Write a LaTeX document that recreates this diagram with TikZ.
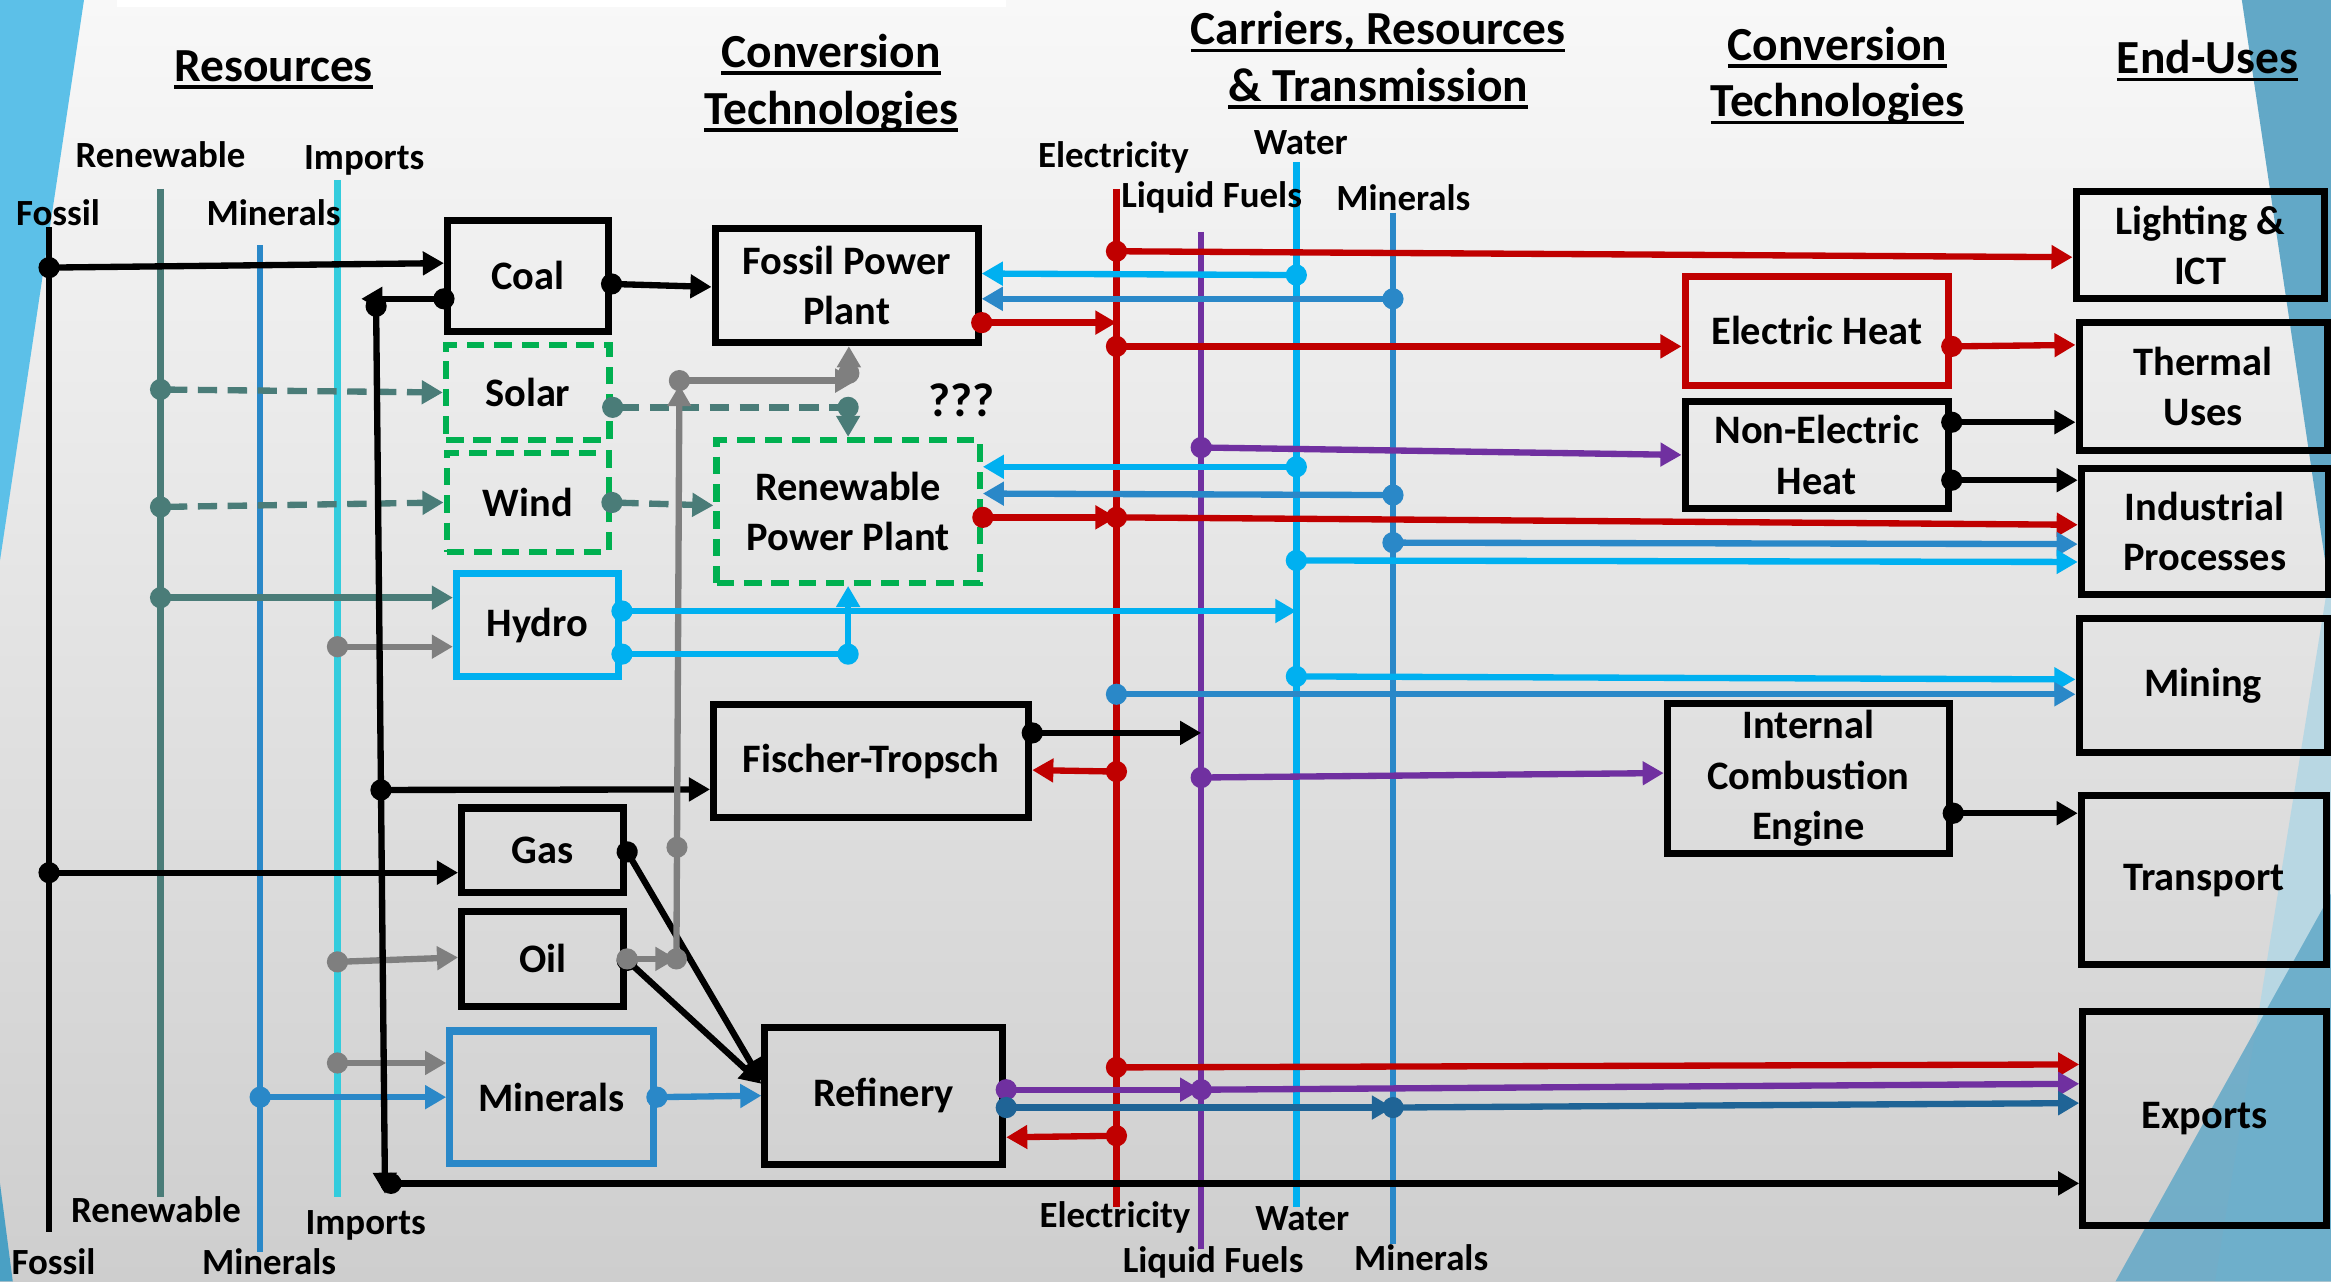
\documentclass[tikz,border=0pt]{standalone}
\usepackage{fontspec}
\setmainfont{Carlito}
\usetikzlibrary{arrows.meta,calc}

\definecolor{redc}{HTML}{C00000}
\definecolor{purc}{HTML}{7030A0}
\definecolor{watc}{HTML}{00B0F0}
\definecolor{minc}{HTML}{2A88C8}
\definecolor{expc}{HTML}{1F6496}
\definecolor{renc}{HTML}{4A7C78}
\definecolor{impc}{HTML}{33CCDD}
\definecolor{grayc}{HTML}{7F7F7F}
\definecolor{greenc}{HTML}{00B050}
\definecolor{skyc}{HTML}{5CC0E8}
\definecolor{skyd}{HTML}{4AA0C4}
\definecolor{sidec}{HTML}{62A8C7}
\definecolor{palec}{HTML}{B8D7E3}
\definecolor{bgtop}{HTML}{F8F8F8}
\definecolor{bgbot}{HTML}{CECECE}

% underlined heading text
\newsavebox{\hdbox}
\newcommand{\hul}[1]{\sbox{\hdbox}{#1}\rlap{\rule[-2.2pt]{\wd\hdbox}{1.1pt}}\usebox{\hdbox}}

\def\U{0.014866cm}
\newcommand{\hdfont}{\bfseries\fontsize{13.5}{16.1}\selectfont}
\newcommand{\bxfont}{\bfseries\fontsize{11.5}{14.4}\selectfont}
\newcommand{\lbfont}{\bfseries\fontsize{10.5}{12.5}\selectfont}

\begin{document}
\begin{tikzpicture}[x=\U, y=-\U,
  box/.style 2 args={draw, line width=2pt, minimum width=#1*\U, minimum height=#2*\U,
    inner sep=0pt, align=center, font=\bxfont},
  gbox/.style 2 args={box={#1}{#2}, draw=greenc, line width=1.8pt, dash pattern=on 5pt off 2.8pt},
  lbl/.style={font=\lbfont, inner sep=0pt},
  hd/.style={font=\hdfont, align=center, inner sep=0pt},
  rail/.style={draw=#1, line width=1.8pt},
  flow/.style={draw=#1, line width=1.8pt, shorten <=-3pt,
    {Circle[length=6pt]}-{Triangle[length=6pt,width=6.5pt]}},
  flow/.default=black,
  link/.style={draw=#1, line width=1.8pt, shorten <=-3pt, {Circle[length=6pt]}-},
  link/.default=black,
  dsh/.style={dash pattern=on 5.5pt off 3pt}]

  \useasboundingbox (0,0) rectangle (1568,862);

  % slide background
  \shade[top color=bgtop, bottom color=bgbot] (0,0) rectangle (1568,862);
  \fill[white] (79,0) rectangle (677,5);
  \fill[skyc] (0,0) -- (56.5,0) -- (0,377) -- cycle;
  \fill[skyd] (0,796) -- (8.6,862) -- (0,862) -- cycle;
  \fill[sidec] (1508,0) -- (1568,0) -- (1568,404) -- cycle;
  \fill[palec] (1568,380) -- (1568,862) -- (1490,862) -- cycle;
  \fill[sidec, opacity=.85] (1568,601) -- (1568,862) -- (1423,862) -- cycle;

  % resource lines
  \coordinate (rFosT) at (33,153);  \coordinate (rFosB) at (33,829);
  \coordinate (rRenT) at (108,127); \coordinate (rRenB) at (108,805);
  \coordinate (rMinT) at (175,165); \coordinate (rMinB) at (175,842);
  \coordinate (rImpT) at (227,121); \coordinate (rImpB) at (227,805);
  \draw[rail=black] (rFosT) -- (rFosB);
  \draw[rail=renc] (rRenT) -- (rRenB);
  \draw[rail=minc] (rMinT) -- (rMinB);
  \draw[rail=impc] (rImpT) -- (rImpB);

  % carrier lines
  \coordinate (cElT) at (751,127); \coordinate (cElB) at (751,812);
  \coordinate (cLfT) at (808,156); \coordinate (cLfB) at (808,840);
  \coordinate (cWaT) at (872,109); \coordinate (cWaB) at (872,812);
  \coordinate (cMiT) at (937,143); \coordinate (cMiB) at (937,837);
  \draw[rail=redc] (cElT) -- (cElB);
  \draw[rail=purc] (cLfT) -- (cLfB);
  \draw[rail=watc] (cWaT) -- (cWaB);
  \draw[rail=minc] (cMiT) -- (cMiB);

  % headings
  \node[hd] (hRes) at (184,47) {\hul{Resources}};
  \node[hd] (hConvA) at (559,56) {\hul{Conversion}\\\hul{Technologies}};
  \node[hd] (hCarr) at (927,40.5) {\hul{Carriers, Resources}\\\hul{\& Transmission}};
  \node[hd] (hConvB) at (1236,51) {\hul{Conversion}\\\hul{Technologies}};
  \node[hd] (hEnd) at (1485,41) {\hul{End-Uses}};

  % line labels
  \node[lbl] (tFos) at (39,143) {Fossil};
  \node[lbl] (tRen) at (108,104) {Renewable};
  \node[lbl] (tMin) at (184,143) {Minerals};
  \node[lbl] (tImp) at (245,108) {Imports};
  \node[lbl] (bFos) at (36,849) {Fossil};
  \node[lbl] (bRen) at (105,814) {Renewable};
  \node[lbl] (bMin) at (181,849) {Minerals};
  \node[lbl] (bImp) at (246,824) {Imports};
  \node[lbl] (tEl) at (749,106) {Electricity};
  \node[lbl] (tLf) at (815,133) {Liquid Fuels};
  \node[lbl] (tWa) at (875,96) {Water};
  \node[lbl] (tMi) at (944,133) {Minerals};
  \node[lbl] (bEl) at (750,819) {Electricity};
  \node[lbl] (bLf) at (816,849) {Liquid Fuels};
  \node[lbl] (bWa) at (876,820) {Water};
  \node[lbl] (bMi) at (956,846) {Minerals};

  % resource boxes
  \node[box={108}{75}] (coal) at (355,185.5) {Coal};
  \node[gbox={110}{64}] (solar) at (355,264) {Solar};
  \node[gbox={109}{67}] (wind) at (355,338) {Wind};
  \node[box={109}{69}, draw=watc] (hydro) at (361.5,420.5) {Hydro};
  \node[box={109}{57}] (gas) at (365,572) {Gas};
  \node[box={109}{64}] (oil) at (365,645) {Oil};
  \node[box={137}{89}, draw=minc] (minbox) at (371,738) {Minerals};

  % conversion boxes
  \node[box={177}{77}] (fpp) at (569.5,192) {Fossil Power\\Plant};
  \node[gbox={177}{96}] (rpp) at (570.5,344) {Renewable\\Power Plant};
  \node[box={212}{76}] (ft) at (586,512) {Fischer-Tropsch};
  \node[box={160}{92}] (ref) at (594.5,737) {Refinery};
  \node[box={177}{73}, draw=redc] (eheat) at (1222,222.5) {Electric Heat};
  \node[box={177}{72}] (neheat) at (1222,306) {Non-Electric\\Heat};
  \node[box={190}{101}] (ice) at (1216.5,523.5) {Internal\\Combustion\\Engine};
  \node[font=\hdfont, inner sep=0pt] (qq) at (647,269) {???};

  % end-use boxes
  \node[box={167}{72}] (light) at (1480,165) {Lighting \&\\ICT};
  \node[box={167}{86}] (therm) at (1482,260) {Thermal\\Uses};
  \node[box={166}{85}] (indus) at (1483,357.5) {Industrial\\Processes};
  \node[box={167}{90}] (mining) at (1482,461) {Mining};
  \node[box={165}{114}] (trans) at (1482.5,592) {Transport};
  \node[box={164}{144}] (exp) at (1483,752.5) {Exports};

  % resources into the boxes
  \draw[flow] (rFosT |- 0,180) -- (coal.west |- 0,177);
  \draw[flow] (rFosT |- 0,587) -- (gas.west |- 0,587);
  \draw[flow=renc, dsh] (rRenT |- 0,262) -- (solar.west |- 0,264);
  \draw[flow=renc, dsh] (rRenT |- 0,341) -- (wind.west |- 0,338);
  \draw[flow=renc] (rRenT |- 0,402) -- (hydro.west |- 0,402);
  \draw[flow=grayc] (rImpT |- 0,435) -- (hydro.west |- 0,435);
  \draw[flow=grayc] (rImpT |- 0,647) -- (oil.west |- 0,644);
  \draw[flow=grayc] (rImpT |- 0,715) -- (minbox.west |- 0,715);
  \draw[flow=minc] (rMinT |- 0,738) -- (minbox.west |- 0,738);

  % coal sent back out (exports and Fischer-Tropsch)
  \coordinate (cxA) at (243,201);
  \coordinate (cxT) at (253,206);
  \coordinate (cxB) at (259,803);
  \coordinate (cxD) at (263,796);
  \draw[flow] (coal.west |- cxA) -- (cxA);
  \draw[flow] (cxT) -- (cxB);
  \draw[flow] ($(cxT)!.545!(cxB)$) -- (ft.west |- 0,531);
  \draw[flow] (cxD) -- (exp.west |- cxD);

  % into the power plants
  \draw[flow] (coal.east |- 0,191) -- (fpp.west |- 0,193);
  \coordinate (sj) at (570.5,274);
  \draw[link=renc, dsh] (solar.east |- sj) -- (sj);
  \draw[flow=renc] (sj) -- (rpp.north -| sj);
  \draw[flow=renc, dsh] (wind.east |- 0,338) -- (rpp.west |- 0,340);

  % oil and gas to the refinery
  \draw[flow] (gas.east |- 0,573) -- (ref.west |- 0,727);
  \draw[flow] (oil.east |- 0,646) -- (ref.west |- 0,729);
  \draw[flow=minc] (minbox.east |- 0,738) -- (ref.west |- 0,737);

  % oil up to the fossil power plant
  \coordinate (gb) at (455,645);
  \coordinate (gt) at (457,256);
  \coordinate (gh) at (576,256);
  \coordinate (gr) at (571,251);
  \draw[flow=grayc] (oil.east |- gb) -- (gb);
  \draw[flow=grayc] (gb) -- (gt |- 0,259);
  \fill[grayc] ($(gb)!.193!(gt)$) circle (3pt);
  \draw[flow=grayc] (gt) -- (gh);
  \draw[flow=grayc] (gr) -- (fpp.south -| gr);

  % hydro
  \coordinate (hj) at (570.5,440);
  \draw[flow=watc] (hydro.east |- 0,411) -- (cWaT |- 0,411);
  \draw[link=watc] (hydro.east |- hj) -- (hj);
  \draw[flow=watc] (hj) -- (rpp.south -| hj);

  % power plants and carriers
  \draw[flow=watc] (cWaT |- 0,185) -- (fpp.east |- 0,184);
  \draw[flow=minc] (cMiT |- 0,201) -- (fpp.east |- 0,201);
  \draw[flow=redc] (fpp.east |- 0,217) -- (cElT |- 0,217);
  \draw[flow=watc] (cWaT |- 0,314) -- (rpp.east |- 0,314);
  \draw[flow=minc] (cMiT |- 0,333) -- (rpp.east |- 0,332);
  \draw[flow=redc] (rpp.east |- 0,348) -- (cElT |- 0,348);

  % Fischer-Tropsch and refinery
  \draw[flow] (ft.east |- 0,493) -- (cLfT |- 0,493);
  \draw[flow=redc] (cElT |- 0,519) -- (ft.east |- 0,518);
  \draw[flow=purc] (ref.east |- 0,733) -- (cLfT |- 0,733);
  \draw[flow=expc] (ref.east |- 0,745) -- (cMiT |- 0,745);
  \draw[flow=redc] (cElT |- 0,764) -- (ref.east |- 0,765);

  % carriers to end uses
  \draw[flow=redc] (cElT |- 0,169) -- (light.west |- 0,173);
  \draw[flow=redc] (cElT |- 0,233) -- (eheat.west |- 0,233);
  \draw[flow=redc] (eheat.east |- 0,233) -- (therm.west |- 0,232);
  \draw[flow=purc] (cLfT |- 0,301) -- (neheat.west |- 0,306);
  \draw[flow] (neheat.east |- 0,284) -- (therm.west |- 0,284);
  \draw[flow] (neheat.east |- 0,323) -- (indus.west |- 0,323);
  \draw[flow=redc] (cElT |- 0,348) -- (indus.west |- 0,353);
  \draw[flow=minc] (cMiT |- 0,365) -- (indus.west |- 0,366);
  \draw[flow=watc] (cWaT |- 0,377) -- (indus.west |- 0,378);
  \draw[flow=watc] (cWaT |- 0,455) -- (mining.west |- 0,457);
  \draw[flow=minc] (cElT |- 0,467) -- (mining.west |- 0,467);
  \draw[flow=purc] (cLfT |- 0,523) -- (ice.west |- 0,520);
  \draw[flow] (ice.east |- 0,547) -- (trans.west |- 0,547);
  \draw[flow=redc] (cElT |- 0,718) -- (exp.west |- 0,716);
  \draw[flow=purc] (cLfT |- 0,733) -- (exp.west |- 0,729);
  \draw[flow=expc] (cMiT |- 0,745) -- (exp.west |- 0,742);
\end{tikzpicture}
\end{document}
